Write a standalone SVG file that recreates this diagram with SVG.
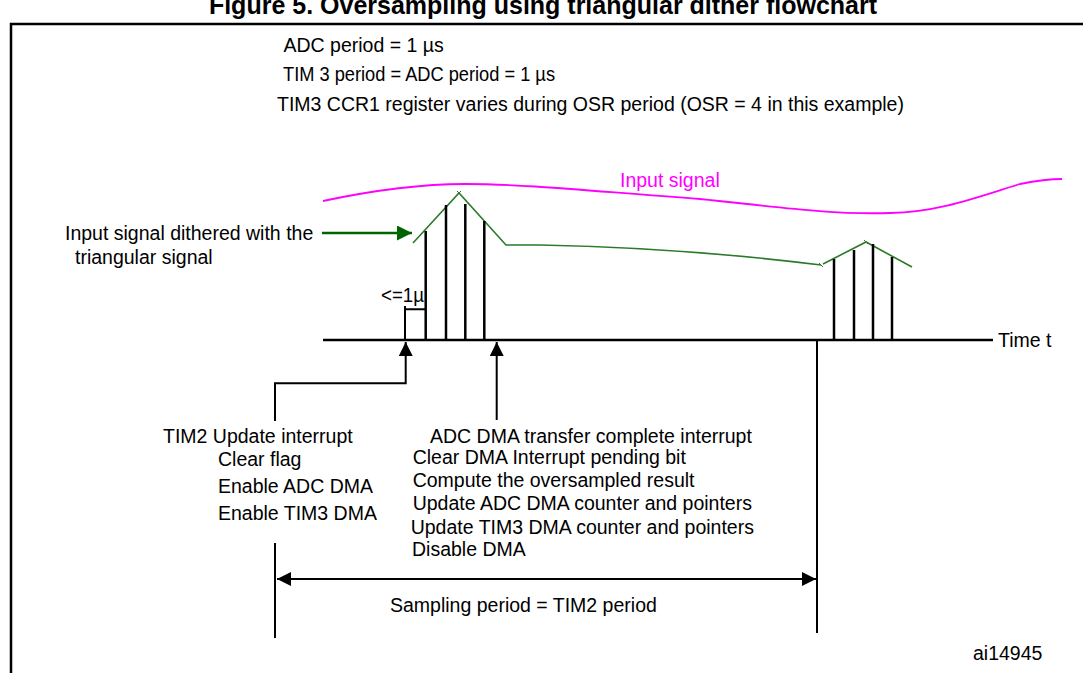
<svg xmlns="http://www.w3.org/2000/svg" width="1083" height="673" viewBox="0 0 1083 673">
  <defs>
    <marker id="arrowBlack" viewBox="0 0 14 14" refX="14" refY="7" markerWidth="14" markerHeight="14" markerUnits="userSpaceOnUse" orient="auto-start-reverse">
      <path d="M0,0 L14,7 L0,14 Z" fill="#000"/>
    </marker>
    <marker id="arrowGreen" viewBox="0 0 15 15" refX="15" refY="7.5" markerWidth="15" markerHeight="15" markerUnits="userSpaceOnUse" orient="auto">
      <path d="M0,0 L15,7.5 L0,15 Z" fill="#006400"/>
    </marker>
  </defs>
  <style>
    text { font-family: "Liberation Sans", Arial, Helvetica, sans-serif; font-size: 19.5px; fill: #000; }
    .title { font-weight: bold; font-size: 25px; }
    .mag { fill: #ff00ff; }
    .frame { stroke: #000; stroke-width: 2.5; fill: none; }
    .conn { stroke: #000; stroke-width: 2; fill: none; }
    .sample { stroke: #000; stroke-width: 2.5; fill: none; }
    .sig { stroke: #2a7a2a; stroke-width: 1.6; fill: none; }
    .tick { stroke: #2a7a2a; stroke-width: 1; fill: none; }
    .input { stroke: #ff00ff; stroke-width: 1.8; fill: none; }
    .pointer { stroke: #006400; stroke-width: 2.5; fill: none; }
  </style>
  <rect width="1083" height="673" fill="#fff"/>

  <!-- heading and frame -->
  <g id="title">
    <text class="title" x="543" y="14" text-anchor="middle">Figure 5. Oversampling using triangular dither flowchart</text>
  </g>
  <path class="frame" d="M11,673 V24 H1083"/>

  <!-- timing parameters -->
  <g id="params">
    <text x="283.5" y="52">ADC period = 1 µs</text>
    <text x="283" y="81" textLength="272" lengthAdjust="spacingAndGlyphs">TIM 3 period = ADC period = 1 µs</text>
    <text x="277" y="111">TIM3 CCR1 register varies during OSR period (OSR = 4 in this example)</text>
  </g>

  <!-- analog input -->
  <g id="input-signal">
    <path class="input" d="M323,201 C370,191 420,184 465,184 C530,184 600,192 700,199 C770,206 830,215 890,213 C940,212 980,196 1020,184 C1040,180 1050,179 1062,179"/>
    <text class="mag" x="620" y="187">Input signal</text>
  </g>

  <!-- dithered signal -->
  <g id="dithered-signal">
    <path class="sig" d="M413,243 L459,193 L506,245 L540,245 C650,247 740,255 821,265"/>
    <path class="sig" d="M823,264 L866,242 L912,267"/>
    <path class="tick" d="M457,191 l4,4 M461,191 l-4,4 M819,263 l4,4 M864,240 l4,4"/>
  </g>

  <g id="dither-label">
    <text x="65" y="240">Input signal dithered with the</text>
    <text x="75" y="264">triangular signal</text>
  </g>

  <!-- time axis and ADC samples -->
  <g id="time-axis">
    <line class="sample" x1="323" y1="340" x2="993" y2="340"/>
    <text x="998" y="347">Time t</text>
  </g>

  <g id="samples-first">
    <path class="sample" d="M425.7,231 V340 M446,205 V340 M465.3,204 V340 M484.3,221 V340"/>
    <path class="conn" d="M405,340 V306 M405,309.3 H425.7"/>
    <text x="381" y="302" textLength="43" lengthAdjust="spacingAndGlyphs">&lt;=1µ</text>
  </g>

  <g id="samples-second">
    <path class="sample" d="M834,259 V340 M854,250 V340 M873,244 V340 M892,257 V340"/>
  </g>

  <!-- interrupt descriptions -->
  <g id="tim2-interrupt">
    <text x="163" y="443">TIM2 Update interrupt</text>
    <text x="218" y="466">Clear flag</text>
    <text x="218" y="493">Enable ADC DMA</text>
    <text x="218" y="520">Enable TIM3 DMA</text>
  </g>

  <g id="dma-interrupt">
    <text x="430" y="443">ADC DMA transfer complete interrupt</text>
    <text x="412.7" y="464">Clear DMA Interrupt pending bit</text>
    <text x="412.7" y="487">Compute the oversampled result</text>
    <text x="412.7" y="510">Update ADC DMA counter and pointers</text>
    <text x="410.7" y="534">Update TIM3 DMA counter and pointers</text>
    <text x="412" y="556">Disable DMA</text>
  </g>

  <g id="sampling-period">
    <text x="390" y="612">Sampling period = TIM2 period</text>
  </g>

  <g id="ref-code">
    <text x="973" y="660">ai14945</text>
  </g>

  <!-- connectors -->
  <g id="connectors">
    <line class="pointer" x1="322" y1="233" x2="412" y2="233" marker-end="url(#arrowGreen)"/>
    <path class="conn" d="M275,421 V383.3 H405.7 V342" marker-end="url(#arrowBlack)"/>
    <path class="conn" d="M496.7,420 V342" marker-end="url(#arrowBlack)"/>
    <path class="conn" d="M275,543 V638"/>
    <path class="conn" d="M817,340 V633"/>
    <line class="conn" x1="277" y1="579" x2="816" y2="579" marker-start="url(#arrowBlack)" marker-end="url(#arrowBlack)"/>
  </g>
</svg>
